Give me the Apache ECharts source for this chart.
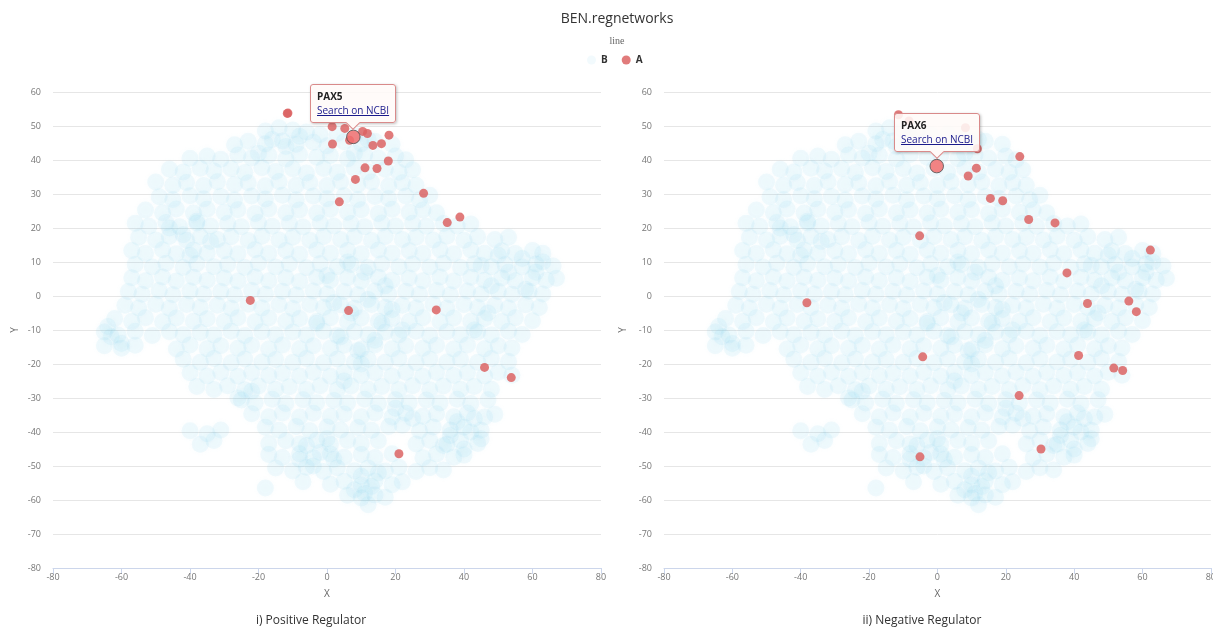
<!DOCTYPE html>
<html>
<head>
<meta charset="utf-8">
<script src="https://cdn.jsdelivr.net/npm/echarts@6/dist/echarts.min.js"></script>
<style>
html, body { margin: 0; padding: 0; background: #fff; overflow: hidden; }
#main { position: absolute; left: 0; top: 0; width: 1213px; height: 628px; }
#right { position: absolute; left: 606px; top: 0; width: 613px; height: 628px; }
</style>
</head>
<body>
<div id="main"></div>
<div id="right"></div>
<script>
// B: all genes (light cloud), same in both panels
var backgroundGenes = [
  [-18,48.5],[-14,49.5],[-10,48.8],[-6,48.2],[-2,47.5],[3,47.8],[8,47.2],
  [-27,44.5],[-23,45.5],[-18,44.8],[-13,45.6],[-9,44.6],[-4,45.2],[0,44.2],[5,45.4],[10,44.8],[14,45.5],[19,44.6],
  [-40,40.5],[-35,41.2],[-31,40.2],[-26,41.5],[-22,40.6],[-17,41.4],[-12,40.3],[-8,41.6],[-3,40.8],[1,41.3],[6,40.4],[11,41.5],[15,40.6],[20,41.2],[23,40.1],
  [-46,37.3],[-42,36.5],[-37,37.6],[-33,36.8],[-28,37.4],[-24,36.3],[-19,37.7],[-15,36.6],[-10,37.4],[-6,36.2],[-1,37.5],[3,36.4],[8,37.6],[12,36.5],[17,37.3],[21,36.4],[25,37.1],
  [-50,33.5],[-45,32.6],[-41,33.4],[-36,32.5],[-32,33.6],[-27,32.8],[-23,33.3],[-18,32.4],[-14,33.7],[-9,32.6],[-5,33.4],[0,32.5],[4,33.6],[9,32.7],[13,33.5],[18,32.4],[22,33.3],[26,32.6],
  [-49,29.2],[-45,28.4],[-40,29.5],[-36,28.6],[-31,29.3],[-27,28.2],[-22,29.4],[-18,28.5],[-13,29.6],[-9,28.3],[-4,29.4],[0,28.6],[5,29.5],[9,28.4],[14,29.3],[18,28.7],[23,29.4],[27,28.3],[30,29.6],
  [-53,25.3],[-48,24.5],[-44,25.6],[-39,24.4],[-35,25.5],[-30,24.6],[-26,25.4],[-21,24.3],[-17,25.6],[-12,24.5],[-8,25.3],[-3,24.4],[1,25.5],[6,24.6],[10,25.4],[15,24.3],[19,25.5],[24,24.6],[28,25.3],[32,24.5],
  [-56,21.4],[-52,20.5],[-47,21.6],[-43,20.4],[-38,21.5],[-34,20.6],[-29,21.3],[-25,20.4],[-20,21.6],[-16,20.5],[-11,21.4],[-7,20.3],[-2,21.5],[2,20.6],[7,21.3],[11,20.4],[16,21.5],[20,20.6],[25,21.4],[29,20.5],[34,21.3],[38,20.6],[42,21.2],
  [-55,17.3],[-50,16.5],[-46,17.6],[-41,16.4],[-37,17.5],[-32,16.6],[-28,17.4],[-23,16.3],[-19,17.6],[-14,16.5],[-10,17.3],[-5,16.4],[-1,17.5],[4,16.6],[8,17.4],[13,16.3],[17,17.5],[22,16.6],[26,17.3],[31,16.5],[35,17.6],[40,16.4],[44,17.4],[49,16.6],[53,17.3],
  [-57,13.4],[-53,12.5],[-48,13.6],[-44,12.4],[-39,13.5],[-35,12.6],[-30,13.3],[-26,12.4],[-21,13.6],[-17,12.5],[-12,13.4],[-8,12.3],[-3,13.5],[1,12.6],[6,13.4],[10,12.4],[15,13.5],[19,12.6],[24,13.3],[28,12.5],[33,13.6],[37,12.4],[42,13.5],[46,12.6],[51,13.3],[55,12.5],[60,13.4],[63,12.6],
  [-56,9.3],[-51,8.5],[-47,9.6],[-42,8.4],[-38,9.5],[-33,8.6],[-29,9.3],[-24,8.4],[-20,9.6],[-15,8.5],[-11,9.4],[-6,8.3],[-2,9.5],[3,8.6],[7,9.3],[12,8.4],[16,9.5],[21,8.6],[25,9.4],[30,8.5],[34,9.6],[39,8.4],[43,9.5],[48,8.6],[52,9.3],[57,8.5],[61,9.4],[66,8.8],
  [-57,5.4],[-53,4.5],[-48,5.6],[-44,4.4],[-39,5.5],[-35,4.6],[-30,5.3],[-26,4.4],[-21,5.6],[-17,4.5],[-12,5.4],[-8,4.3],[-3,5.5],[1,4.6],[6,5.4],[10,4.4],[15,5.5],[19,4.6],[24,5.3],[28,4.5],[33,5.6],[37,4.4],[42,5.5],[46,4.6],[51,5.3],[55,4.5],[60,5.4],[64,4.6],[67,5.2],
  [-58,1.3],[-54,0.5],[-49,1.6],[-45,0.4],[-40,1.5],[-36,0.6],[-31,1.3],[-27,0.4],[-22,1.6],[-18,0.5],[-13,1.4],[-9,0.3],[-4,1.5],[0,0.6],[5,1.3],[9,0.4],[14,1.5],[18,0.6],[23,1.4],[27,0.5],[32,1.6],[36,0.4],[41,1.5],[45,0.6],[50,1.3],[54,0.5],[59,1.4],[63,0.6],
  [-59,-2.7],[-55,-3.5],[-50,-2.4],[-46,-3.6],[-41,-2.5],[-37,-3.4],[-32,-2.7],[-28,-3.6],[-23,-2.4],[-19,-3.5],[-14,-2.6],[-10,-3.7],[-5,-2.5],[-1,-3.4],[4,-2.6],[8,-3.6],[13,-2.5],[17,-3.4],[22,-2.7],[26,-3.5],[31,-2.4],[35,-3.6],[40,-2.5],[44,-3.4],[49,-2.7],[53,-3.5],[58,-2.6],[62,-3.4],
  [-62,-6.6],[-57,-7.5],[-53,-6.4],[-48,-7.6],[-44,-6.5],[-39,-7.4],[-35,-6.7],[-30,-7.5],[-26,-6.4],[-21,-7.6],[-17,-6.5],[-12,-7.4],[-8,-6.6],[-3,-7.5],[1,-6.4],[6,-7.6],[10,-6.5],[15,-7.4],[19,-6.6],[24,-7.5],[28,-6.4],[33,-7.6],[37,-6.5],[42,-7.4],[46,-6.6],[51,-7.5],[55,-6.4],[60,-7.3],
  [-65,-10.6],[-61,-11.5],[-56,-10.4],[-51,-11.6],[-46,-10.5],[-42,-11.4],[-37,-10.7],[-33,-11.5],[-28,-10.4],[-24,-11.6],[-19,-10.5],[-15,-11.4],[-10,-10.6],[-6,-11.5],[-1,-10.4],[3,-11.6],[8,-10.5],[12,-11.4],[17,-10.6],[21,-11.5],[26,-10.4],[30,-11.6],[35,-10.5],[39,-11.4],[44,-10.6],[48,-11.5],[53,-10.4],[57,-11.3],
  [-65,-14.6],[-60,-15.4],[-56,-14.5],[-44,-15.6],[-40,-14.4],[-35,-15.5],[-31,-14.6],[-26,-15.4],[-22,-14.5],[-17,-15.6],[-13,-14.4],[-8,-15.5],[-4,-14.6],[1,-15.4],[5,-14.5],[10,-15.6],[14,-14.4],[19,-15.5],[23,-14.6],[28,-15.4],[32,-14.5],[37,-15.6],[41,-14.4],[46,-15.5],[50,-14.6],[54,-15.3],
  [-42,-18.6],[-37,-19.5],[-33,-18.4],[-28,-19.6],[-24,-18.5],[-19,-19.4],[-15,-18.7],[-10,-19.5],[-6,-18.4],[-1,-19.6],[3,-18.5],[8,-19.4],[12,-18.6],[17,-19.5],[21,-18.4],[26,-19.6],[30,-18.5],[35,-19.4],[39,-18.6],[44,-19.5],[48,-18.4],[53,-19.3],
  [-40,-22.6],[-35,-23.5],[-31,-22.4],[-26,-23.6],[-22,-22.5],[-17,-23.4],[-13,-22.7],[-8,-23.5],[-4,-22.4],[1,-23.6],[5,-22.5],[10,-23.4],[14,-22.6],[19,-23.5],[23,-22.4],[28,-23.6],[32,-22.5],[37,-23.4],[41,-22.6],[46,-23.5],[50,-22.4],[54,-23.3],
  [-38,-26.6],[-33,-27.5],[-29,-26.4],[-24,-27.6],[-20,-26.5],[-15,-27.4],[-11,-26.7],[-6,-27.5],[-2,-26.4],[3,-27.6],[7,-26.5],[12,-27.4],[16,-26.6],[21,-27.5],[25,-26.4],[30,-27.6],[34,-26.5],[39,-27.4],[43,-26.6],[48,-27.4],
  [-25,-30.6],[-21,-31.5],[-16,-30.4],[-12,-31.6],[-7,-30.5],[-3,-31.4],[2,-30.7],[6,-31.5],[11,-30.4],[15,-31.6],[20,-30.5],[24,-31.4],[29,-30.6],[33,-31.5],[38,-30.4],[42,-31.6],[47,-30.5],
  [-22,-34.6],[-17,-35.5],[-13,-34.4],[-8,-35.6],[-4,-34.5],[1,-35.4],[5,-34.7],[10,-35.5],[14,-34.4],[19,-35.6],[23,-34.5],[28,-35.4],[32,-34.6],[37,-35.5],[41,-34.4],[46,-35.6],[49,-34.8],
  [-40,-39.6],[-35,-40.5],[-31,-39.4],[-18,-38.6],[-14,-39.5],[-9,-38.4],[-5,-39.6],[0,-38.5],[4,-39.4],[9,-38.7],[13,-39.5],[18,-38.4],[27,-39.6],[31,-38.5],[36,-39.4],[40,-38.6],[45,-39.5],
  [-37,-43.6],[-33,-42.5],[-17,-43.4],[-12,-42.6],[-8,-43.5],[-3,-42.4],[1,-43.6],[6,-42.5],[10,-43.4],[15,-42.6],[26,-43.5],[30,-42.4],[35,-43.6],[39,-42.5],[44,-43.4],
  [-17,-46.6],[-13,-47.5],[-8,-46.4],[-4,-47.6],[1,-46.5],[5,-47.4],[10,-46.6],[14,-47.5],[19,-46.4],[28,-47.6],[32,-46.5],[37,-47.4],[40,-46.8],
  [-15,-50.6],[-10,-51.5],[-6,-50.4],[-1,-51.6],[3,-50.5],[8,-51.4],[12,-50.6],[17,-51.5],[21,-50.4],[26,-51.6],[30,-50.5],[34,-51.2],
  [-18,-56.5],[-7,-54.6],[1,-55.4],[5,-54.5],[10,-55.6],[14,-54.4],[19,-55.5],[22,-54.6],
  [6,-58.6],[10,-59.4],[14,-58.5],[17,-59.2],[12,-61.4],
  [2,-2],[7,-5],[12,-1],[16,-8],[4,-12],[9,-16],[14,-13],[19,-4],[0,6],[6,10],[11,7],[17,3],[-3,-8],[22,-10],[10,-20],[5,-25],
  [48,3],[53,7],[57,11],[61,7],[50,12],[45,9],[58,2],[63,10],[43,-10],[47,-5],
  [38,-37],[42,-40],[45,-42],[40,-45],[36,-41],[43,-36],[34,-44],
  [-6,-44],[-2,-46],[-8,-48],[0,-42],[-4,-50],[2,-48],
  [10,-53],[13,-56],[8,-57],[15,-52],[11,-58],
  [-42,18],[-38,22],[-46,20],[-34,16],[-40,12],
  [-63,-12],[-60,-14],[-64,-9],
  [-16,46],[-12,44],[-8,47],[-20,42],[8,42],[12,46],
  [25,-36],[22,-38],[20,-33],[-26,-30],[-22,-28]
];

// A: positive regulators (panel i)
var posRegulators = [
  [-11.6,53.7],[-11.4,53.8],[1.5,49.8],[5.2,49.3],[10.4,48.4],[11.8,47.8],[18.1,47.3],[1.6,44.7],[6.6,45.8],
  [7.7,46.8],[13.4,44.3],[15.9,44.8],[17.9,39.7],[11.1,37.7],[14.6,37.5],[8.3,34.3],[28.2,30.2],[3.6,27.7],
  [35.1,21.6],[38.8,23.2],[-22.4,-1.3],[6.3,-4.3],[31.9,-4.1],[46.0,-21.0],[53.8,-24.0],[21.0,-46.4]
];
var posTipIndex = 9;
var posTipGene = 'PAX5';

// A: negative regulators (panel ii)
var negRegulators = [
  [-11.4,53.3],[-8.3,51.5],[8.2,49.5],[11.7,43.3],[24.1,41.0],[-0.2,38.2],[11.4,37.6],[9.0,35.3],[15.5,28.7],
  [19.1,28.0],[26.7,22.5],[34.4,21.5],[-5.2,17.7],[62.3,13.5],[37.9,6.8],[-38.2,-2.0],[43.9,-2.2],[56.0,-1.5],
  [58.2,-4.6],[-4.3,-17.9],[41.3,-17.5],[51.6,-21.2],[54.2,-21.9],[23.9,-29.3],[30.3,-45.0],[-5.1,-47.3]
];
var negTipIndex = 5;
var negTipGene = 'PAX6';

var FONT = '"Open Sans", "Noto Sans", sans-serif';
var CSS_FONT = "'Open Sans', 'Noto Sans', sans-serif";

function withName(list, idx, name) {
    return list.map(function (p, i) {
        return i === idx ? { name: name, value: p } : { value: p };
    });
}

function xAxisOpt() {
    return {
        type: 'value', min: -80, max: 80, interval: 20,
        name: 'X', nameLocation: 'middle', nameGap: 21,
        nameTextStyle: { color: '#666', fontSize: 10, fontFamily: FONT },
        axisLine: { onZero: false, lineStyle: { color: '#ccd6eb' } },
        axisTick: { show: true, length: 6, lineStyle: { color: '#ccd6eb' } },
        axisLabel: { color: '#777', fontSize: 9, margin: 5, fontFamily: FONT },
        splitLine: { show: false }
    };
}

function yAxisOpt() {
    return {
        type: 'value', min: -80, max: 60, interval: 10,
        name: 'Y', nameLocation: 'middle', nameGap: 33,
        nameTextStyle: { color: '#666', fontSize: 10, fontFamily: FONT },
        axisLine: { show: false, onZero: false },
        axisTick: { show: false },
        axisLabel: { color: '#777', fontSize: 9, margin: 12, fontFamily: FONT },
        splitLine: { lineStyle: { color: '#e6e6e6' } }
    };
}

function tooltipOpt() {
    return {
        trigger: 'item',
        triggerOn: 'none',
        alwaysShowContent: true,
        transitionDuration: 0,
        backgroundColor: 'rgba(255,250,248,0.88)',
        borderColor: '#d98a8a',
        borderWidth: 1,
        padding: [4, 6, 5, 6],
        extraCssText: 'box-shadow:1px 1px 3px rgba(0,0,0,0.25);border-radius:3px;overflow:visible;',
        position: function (pt, params, dom, rect, size) {
            return [pt[0] - size.contentSize[0] / 2, pt[1] - size.contentSize[1] - 14];
        },
        formatter: function (p) {
            return '<div style="font:bold 10px ' + CSS_FONT + ';color:#222;line-height:14px">' + p.name + '</div>' +
                '<div style="line-height:13px"><a href="#" style="font:10px ' + CSS_FONT + ';color:#1a1a8c;text-decoration:underline">Search on NCBI</a></div>' +
                '<div style="position:absolute;left:50%;bottom:-6px;margin-left:-5px;width:9px;height:9px;' +
                'background:rgb(255,250,248);border-right:1px solid #d98a8a;border-bottom:1px solid #d98a8a;transform:rotate(45deg)"></div>';
        }
    };
}

function seriesOpt(regulators) {
    return [
        {
            name: 'B', type: 'scatter', symbolSize: 17, silent: true,
            itemStyle: {
                color: '#82d2f0', opacity: 0.1,
                shadowBlur: 5, shadowColor: 'rgba(130,210,240,0.45)'
            },
            data: backgroundGenes
        },
        {
            name: 'A', type: 'scatter', symbolSize: 9,
            itemStyle: { color: '#dc6464', opacity: 0.85 },
            emphasis: { scale: 1.5, itemStyle: { borderColor: '#555', borderWidth: 1 } },
            data: regulators
        }
    ];
}

var left = echarts.init(document.getElementById('main'));
left.setOption({
    animation: false,
    title: [
        { text: 'BEN.regnetworks', left: 612, top: 7, textAlign: 'center',
          textStyle: { fontSize: 14, fontWeight: 'normal', color: '#333', fontFamily: FONT } },
        { text: 'line', left: 612, top: 31, textAlign: 'center',
          textStyle: { fontSize: 10, fontWeight: 'normal', color: '#666', fontFamily: '"Liberation Serif", serif' } },
        { text: 'i) Positive Regulator', left: 306, top: 610, textAlign: 'center',
          textStyle: { fontSize: 12, fontWeight: 'normal', color: '#333', fontFamily: FONT } }
    ],
    legend: {
        data: ['B', 'A'], left: 582, top: 50, icon: 'circle',
        itemWidth: 9, itemHeight: 9, itemGap: 14,
        textStyle: { fontSize: 10, fontWeight: 'bold', color: '#333', fontFamily: FONT }
    },
    tooltip: tooltipOpt(),
    grid: { left: 53, right: 612, top: 92, bottom: 60 },
    xAxis: xAxisOpt(),
    yAxis: yAxisOpt(),
    series: seriesOpt(withName(posRegulators, posTipIndex, posTipGene))
});

var right = echarts.init(document.getElementById('right'));
right.setOption({
    animation: false,
    title: [
        { text: 'ii) Negative Regulator', left: 311, top: 610, textAlign: 'center',
          textStyle: { fontSize: 12, fontWeight: 'normal', color: '#333', fontFamily: FONT } }
    ],
    tooltip: tooltipOpt(),
    grid: { left: 58, right: 3, top: 92, bottom: 60 },
    xAxis: xAxisOpt(),
    yAxis: yAxisOpt(),
    series: seriesOpt(withName(negRegulators, negTipIndex, negTipGene))
});

left.dispatchAction({ type: 'highlight', seriesIndex: 1, dataIndex: posTipIndex });
left.dispatchAction({ type: 'showTip', seriesIndex: 1, dataIndex: posTipIndex });
right.dispatchAction({ type: 'highlight', seriesIndex: 1, dataIndex: negTipIndex });
right.dispatchAction({ type: 'showTip', seriesIndex: 1, dataIndex: negTipIndex });
</script>
</body>
</html>
